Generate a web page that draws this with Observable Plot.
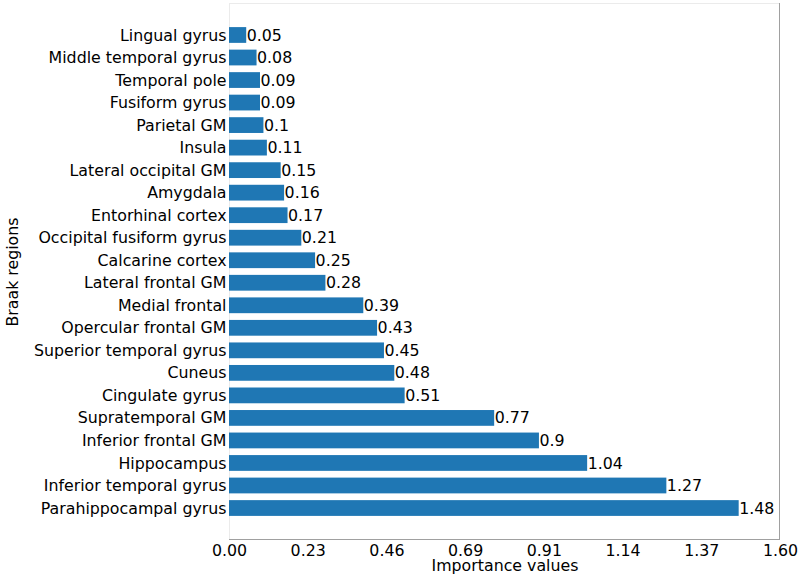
<!DOCTYPE html>
<html>
<head>
<meta charset="utf-8">
<script src="https://cdn.jsdelivr.net/npm/d3@7"></script>
<script src="https://cdn.jsdelivr.net/npm/@observablehq/plot@0.6"></script>
<style>
  html, body { margin: 0; padding: 0; background: #fff; }
</style>
</head>
<body>
<div id="chart"></div>
<script>
const regions = [
  "Lingual gyrus", "Middle temporal gyrus", "Temporal pole", "Fusiform gyrus",
  "Parietal GM", "Insula", "Lateral occipital GM", "Amygdala", "Entorhinal cortex",
  "Occipital fusiform gyrus", "Calcarine cortex", "Lateral frontal GM", "Medial frontal",
  "Opercular frontal GM", "Superior temporal gyrus", "Cuneus", "Cingulate gyrus",
  "Supratemporal GM", "Inferior frontal GM", "Hippocampus", "Inferior temporal gyrus",
  "Parahippocampal gyrus"
];
const importance = [
  0.05, 0.08, 0.09, 0.09, 0.1, 0.11, 0.15, 0.16, 0.17, 0.21, 0.25, 0.28, 0.39,
  0.43, 0.45, 0.48, 0.51, 0.77, 0.9, 1.04, 1.27, 1.48
];
const xTicks = [0, 1.6/7, 3.2/7, 4.8/7, 6.4/7, 8/7, 9.6/7, 1.6];
const xTickLabels = ["0.00", "0.23", "0.46", "0.69", "0.91", "1.14", "1.37", "1.60"];
const xTitle = "Importance values";
const yTitle = "Braak regions";

const data = regions.map((r, i) => ({region: r, value: importance[i]}));

const FS = 15.8;

const spines = (index, scales, values, dims) => {
  const g = d3.create("svg:g");
  const l = dims.marginLeft, r = dims.width - dims.marginRight;
  const t = dims.marginTop, b = dims.height - dims.marginBottom;
  g.append("line").attr("x1", l).attr("x2", r).attr("y1", t + 0.5).attr("y2", t + 0.5).attr("stroke", "#ebebeb");
  g.append("line").attr("x1", l + 0.5).attr("x2", l + 0.5).attr("y1", t).attr("y2", b).attr("stroke", "#ebebeb");
  g.append("line").attr("x1", r - 0.5).attr("x2", r - 0.5).attr("y1", t).attr("y2", b).attr("stroke", "#a0a0a0");
  g.append("line").attr("x1", l).attr("x2", r).attr("y1", b - 0.5).attr("y2", b - 0.5).attr("stroke", "#a0a0a0");
  return g.node();
};

const chart = Plot.plot({
  width: 799,
  height: 575,
  marginLeft: 229,
  marginRight: 19,
  marginTop: 3,
  marginBottom: 35,
  style: {fontFamily: "DejaVu Sans", fontSize: FS + "px", color: "#000", background: "#fff"},
  x: {domain: [0, 1.6], label: null},
  y: {domain: regions, type: "band", paddingInner: 0.3, paddingOuter: 1.07, round: false, label: null},
  marks: [
    spines,
    Plot.barX(data, {x: "value", y: "region", fill: "#1f77b4"}),
    Plot.text(data, {x: "value", y: "region", text: d => String(d.value), textAnchor: "start", dx: 0, fill: "#000", fontSize: FS}),
    Plot.axisX({ticks: xTicks, tickFormat: (d, i) => xTickLabels[i], tickSize: 0, tickPadding: 4, label: null, fontSize: FS}),
    Plot.axisY({tickSize: 0, tickPadding: 3, label: null, fontSize: FS}),
    Plot.text([xTitle], {frameAnchor: "bottom", textAnchor: "middle", lineAnchor: "middle", dy: 25, fontSize: FS, fill: "#000"}),
    Plot.text([yTitle], {frameAnchor: "left", textAnchor: "middle", lineAnchor: "middle", dx: -217, rotate: -90, fontSize: FS, fill: "#000"})
  ]
});
document.getElementById("chart").appendChild(chart);
</script>
</body>
</html>
